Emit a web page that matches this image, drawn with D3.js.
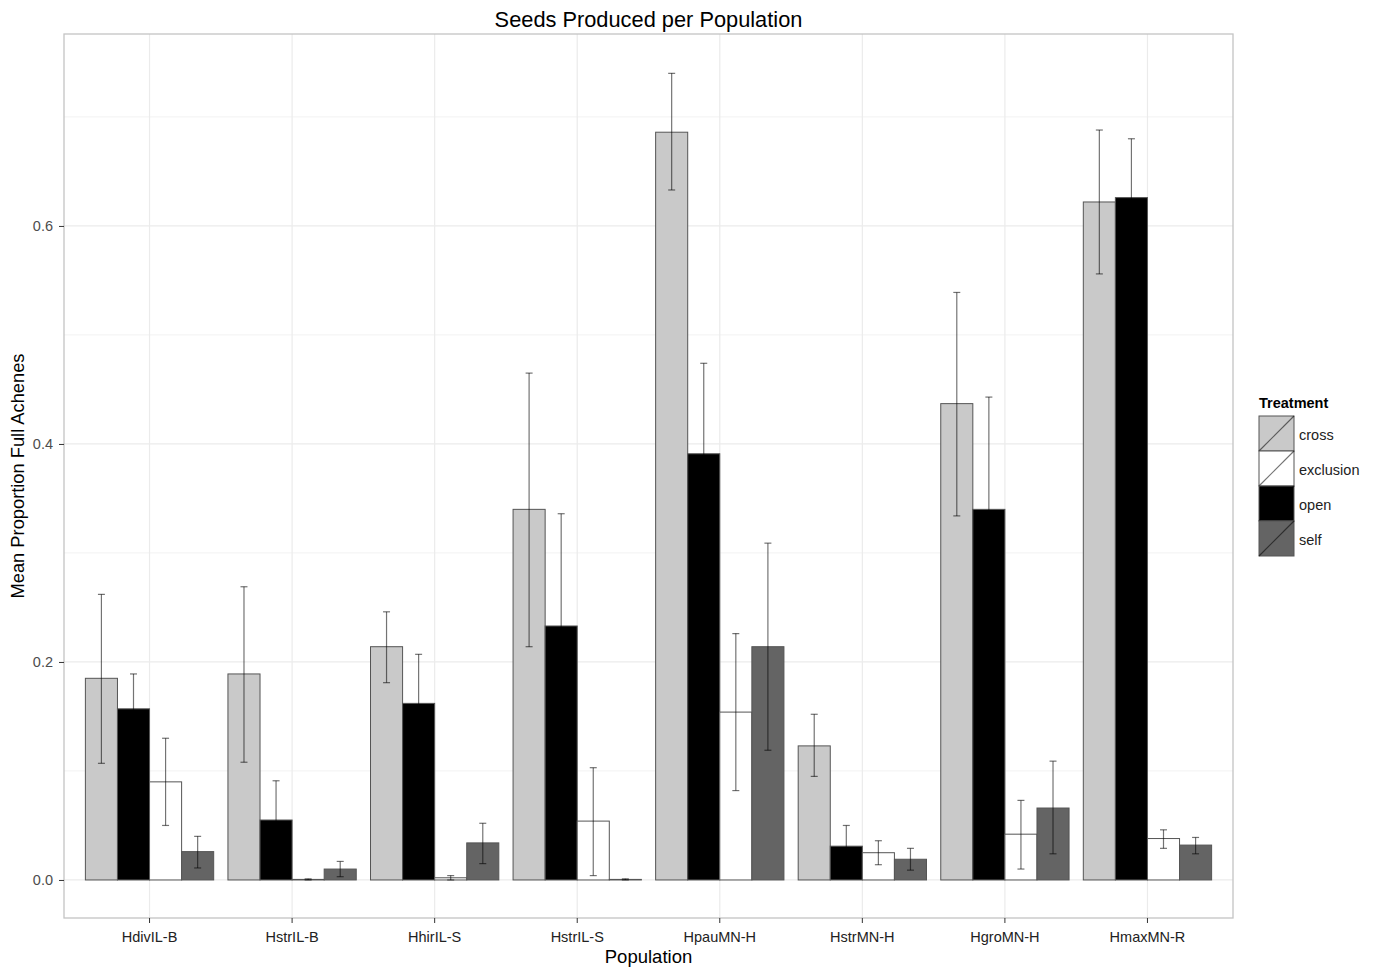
<!DOCTYPE html>
<html>
<head>
<meta charset="utf-8">
<script src="https://cdn.jsdelivr.net/npm/d3@7"></script>
<style>
  body { margin: 0; background: #fff; }
  text { font-family: "Liberation Sans", Arial, sans-serif; }
</style>
</head>
<body>
<div id="chart"></div>
<script>
// data
const populations = ["HdivIL-B", "HstrIL-B", "HhirIL-S", "HstrIL-S", "HpauMN-H", "HstrMN-H", "HgroMN-H", "HmaxMN-R"];
const treatments = ["cross", "open", "exclusion", "self"]; // order inside each group
const legendOrder = ["cross", "exclusion", "open", "self"];

const crossMean = [0.185, 0.189, 0.214, 0.340, 0.686, 0.123, 0.437, 0.622];
const crossLow = [0.107, 0.108, 0.181, 0.214, 0.633, 0.095, 0.334, 0.556];
const crossHigh = [0.262, 0.269, 0.246, 0.465, 0.740, 0.152, 0.539, 0.688];

const openMean = [0.157, 0.055, 0.162, 0.233, 0.391, 0.031, 0.340, 0.626];
const openLow = [0.126, 0.020, 0.118, 0.131, 0.308, 0.012, 0.237, 0.572];
const openHigh = [0.189, 0.091, 0.207, 0.336, 0.474, 0.050, 0.443, 0.680];

const exclMean = [0.090, 0.0005, 0.002, 0.054, 0.154, 0.025, 0.042, 0.038];
const exclLow = [0.050, 0.000, 0.000, 0.004, 0.082, 0.014, 0.010, 0.029];
const exclHigh = [0.130, 0.001, 0.004, 0.103, 0.226, 0.036, 0.073, 0.046];

const selfMean = [0.026, 0.010, 0.034, 0.0005, 0.214, 0.019, 0.066, 0.032];
const selfLow = [0.011, 0.003, 0.015, 0.000, 0.119, 0.009, 0.024, 0.024];
const selfHigh = [0.040, 0.017, 0.052, 0.001, 0.309, 0.029, 0.109, 0.039];

const yTicks = [0, 0.2, 0.4, 0.6];
const yMinor = [0.1, 0.3, 0.5, 0.7];

const series = {
  cross: { mean: crossMean, low: crossLow, high: crossHigh },
  open: { mean: openMean, low: openLow, high: openHigh },
  exclusion: { mean: exclMean, low: exclLow, high: exclHigh },
  self: { mean: selfMean, low: selfLow, high: selfHigh }
};

const fills = { cross: "#c9c9c9", exclusion: "#ffffff", open: "#000000", self: "#646464" };

// flat table for the bars
const rows = [];
populations.forEach(function (p, i) {
  treatments.forEach(function (t) {
    rows.push({ pop: p, trt: t, mean: series[t].mean[i], low: series[t].low[i], high: series[t].high[i] });
  });
});

const W = 1377, H = 968;
const panel = { left: 64, top: 34, right: 1233, bottom: 918 };

const svg = d3
  .select("#chart")
  .append("svg")
  .attr("width", W)
  .attr("height", H);

const x = d3
  .scaleBand()
  .domain(populations)
  .range([panel.left, panel.right])
  .paddingInner(0.1)
  .paddingOuter(0.15);

const xInner = d3.scaleBand().domain(treatments).range([0, x.bandwidth()]);

const y = d3.scaleLinear().domain([-0.0349, 0.7761]).range([panel.bottom, panel.top]);

// panel background + grid
svg
  .append("rect")
  .attr("x", panel.left)
  .attr("y", panel.top)
  .attr("width", panel.right - panel.left)
  .attr("height", panel.bottom - panel.top)
  .attr("fill", "#fff");

svg
  .selectAll(".minor")
  .data(yMinor)
  .enter()
  .append("line")
  .attr("x1", panel.left)
  .attr("x2", panel.right)
  .attr("y1", function (d) { return y(d); })
  .attr("y2", function (d) { return y(d); })
  .attr("stroke", "#f5f5f5")
  .attr("stroke-width", 1.2);

svg
  .selectAll(".major")
  .data(yTicks)
  .enter()
  .append("line")
  .attr("x1", panel.left)
  .attr("x2", panel.right)
  .attr("y1", function (d) { return y(d); })
  .attr("y2", function (d) { return y(d); })
  .attr("stroke", "#ebebeb")
  .attr("stroke-width", 1.2);

svg
  .selectAll(".vgrid")
  .data(populations)
  .enter()
  .append("line")
  .attr("x1", function (d) { return x(d) + x.bandwidth() / 2; })
  .attr("x2", function (d) { return x(d) + x.bandwidth() / 2; })
  .attr("y1", panel.top)
  .attr("y2", panel.bottom)
  .attr("stroke", "#ebebeb")
  .attr("stroke-width", 1.2);

// bars
svg
  .selectAll(".bar")
  .data(rows)
  .enter()
  .append("rect")
  .attr("x", function (d) { return x(d.pop) + xInner(d.trt); })
  .attr("width", xInner.bandwidth())
  .attr("y", function (d) { return y(d.mean); })
  .attr("height", function (d) { return y(0) - y(d.mean); })
  .attr("fill", function (d) { return fills[d.trt]; })
  .attr("stroke", "#555")
  .attr("stroke-width", 1);

// error bars
const capHalf = 3.5;
const eb = svg
  .selectAll(".err")
  .data(rows)
  .enter()
  .append("g")
  .attr("stroke", "#000")
  .attr("stroke-opacity", 0.55)
  .attr("stroke-width", 1.2);

eb.append("line")
  .attr("x1", function (d) { return x(d.pop) + xInner(d.trt) + xInner.bandwidth() / 2; })
  .attr("x2", function (d) { return x(d.pop) + xInner(d.trt) + xInner.bandwidth() / 2; })
  .attr("y1", function (d) { return y(d.low); })
  .attr("y2", function (d) { return y(d.high); });

eb.append("line")
  .attr("x1", function (d) { return x(d.pop) + xInner(d.trt) + xInner.bandwidth() / 2 - capHalf; })
  .attr("x2", function (d) { return x(d.pop) + xInner(d.trt) + xInner.bandwidth() / 2 + capHalf; })
  .attr("y1", function (d) { return y(d.high); })
  .attr("y2", function (d) { return y(d.high); });

eb.append("line")
  .attr("x1", function (d) { return x(d.pop) + xInner(d.trt) + xInner.bandwidth() / 2 - capHalf; })
  .attr("x2", function (d) { return x(d.pop) + xInner(d.trt) + xInner.bandwidth() / 2 + capHalf; })
  .attr("y1", function (d) { return y(d.low); })
  .attr("y2", function (d) { return y(d.low); });

// panel border
svg
  .append("rect")
  .attr("x", panel.left)
  .attr("y", panel.top)
  .attr("width", panel.right - panel.left)
  .attr("height", panel.bottom - panel.top)
  .attr("fill", "none")
  .attr("stroke", "#c4c4c4")
  .attr("stroke-width", 1.3);

// axes
const yAxis = svg
  .append("g")
  .attr("transform", "translate(" + panel.left + ",0)")
  .call(d3.axisLeft(y).tickValues(yTicks).tickFormat(d3.format(".1f")).tickSize(5).tickPadding(6));
yAxis.select(".domain").remove();
yAxis.selectAll("line").attr("stroke", "#333");
yAxis.selectAll("text").attr("fill", "#4d4d4d").style("font-size", "14.5px").style("font-family", "Liberation Sans, Arial, sans-serif");

const xAxis = svg
  .append("g")
  .attr("transform", "translate(0," + panel.bottom + ")")
  .call(d3.axisBottom(x).tickSize(5).tickPadding(9));
xAxis.select(".domain").remove();
xAxis.selectAll("line").attr("stroke", "#333");
xAxis.selectAll("text").attr("fill", "#222").style("font-size", "14.5px").style("font-family", "Liberation Sans, Arial, sans-serif");

// titles
svg
  .append("text")
  .attr("x", (panel.left + panel.right) / 2)
  .attr("y", 27)
  .attr("text-anchor", "middle")
  .style("font-size", "21.8px")
  .text("Seeds Produced per Population");

svg
  .append("text")
  .attr("x", (panel.left + panel.right) / 2)
  .attr("y", 963)
  .attr("text-anchor", "middle")
  .style("font-size", "18.5px")
  .text("Population");

svg
  .append("text")
  .attr("transform", "translate(24," + (panel.top + panel.bottom) / 2 + ")rotate(-90)")
  .attr("text-anchor", "middle")
  .style("font-size", "18.3px")
  .text("Mean Proportion Full Achenes");

// legend
const lg = svg.append("g").attr("transform", "translate(1259,416)");
const key = 35;

lg.append("text")
  .attr("x", 0)
  .attr("y", -8)
  .style("font-size", "14.5px")
  .attr("font-weight", "bold")
  .text("Treatment");

const items = lg
  .selectAll(".item")
  .data(legendOrder)
  .enter()
  .append("g")
  .attr("transform", function (d, i) { return "translate(0," + i * key + ")"; });

items
  .append("rect")
  .attr("width", key)
  .attr("height", key)
  .attr("fill", function (d) { return fills[d]; })
  .attr("stroke", "#555")
  .attr("stroke-width", 1);

items
  .append("line")
  .attr("x1", 0)
  .attr("y1", key)
  .attr("x2", key)
  .attr("y2", 0)
  .attr("stroke", "#000")
  .attr("stroke-opacity", 0.55)
  .attr("stroke-width", 1.2);

items
  .append("text")
  .attr("x", key + 5)
  .attr("y", key / 2 + 6)
  .style("font-size", "14.5px")
  .attr("fill", "#222")
  .text(function (d) { return d; });
</script>
</body>
</html>
